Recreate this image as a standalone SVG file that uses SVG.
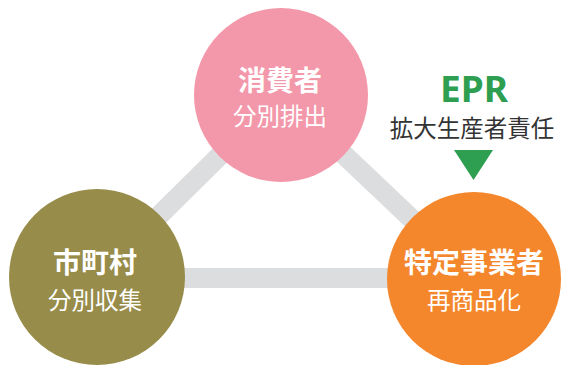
<svg xmlns="http://www.w3.org/2000/svg" width="561" height="365" viewBox="0 0 561 365">
<style>
.t{font-family:"Noto Sans CJK JP","Noto Sans",sans-serif;fill:#fff;text-anchor:middle}
.b{font-weight:700;font-size:28px}
.s{font-weight:400;font-size:23.5px}
.c{stroke:#dcdddf;stroke-width:20;fill:none}
</style>
<rect width="561" height="365" fill="#fff"/>
<g id="connectors">
<line class="c" x1="281" y1="95" x2="97" y2="277"/>
<line class="c" x1="281" y1="95" x2="474" y2="278"/>
<line class="c" x1="97" y1="278" x2="474" y2="278"/>
</g>
<g id="consumer">
<circle cx="281" cy="95" r="87" fill="#f398aa"/>
<text class="t b" x="280" y="91">消費者</text>
<text class="t s" x="280" y="125">分別排出</text>
</g>
<g id="municipality">
<circle cx="97" cy="277" r="88" fill="#978c49"/>
<text class="t b" x="95" y="273">市町村</text>
<text class="t s" x="95" y="309">分別収集</text>
</g>
<g id="producer">
<circle cx="474" cy="279" r="87" fill="#f4862c"/>
<text class="t b" x="474" y="273">特定事業者</text>
<text class="t s" x="474" y="309">再商品化</text>
</g>
<g id="epr">
<text x="474" y="102" font-family="'Noto Sans','Liberation Sans',sans-serif" font-weight="700" font-size="35" fill="#2e9e50" text-anchor="middle" textLength="68" lengthAdjust="spacingAndGlyphs">EPR</text>
<text x="472" y="137" font-family="'Noto Sans CJK JP',sans-serif" font-size="23.5" fill="#333" text-anchor="middle">拡大生産者責任</text>
<polygon points="454,150 493,150 473.5,180" fill="#2e9e50"/>
</g>
</svg>
